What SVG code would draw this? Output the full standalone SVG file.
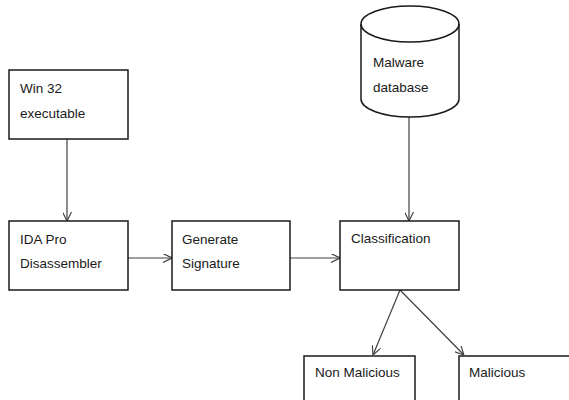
<svg xmlns="http://www.w3.org/2000/svg" width="569" height="400" viewBox="0 0 569 400">
  <defs>
    <marker id="arrow" viewBox="0 0 10 10" refX="10" refY="5" markerWidth="9" markerHeight="9" markerUnits="userSpaceOnUse" orient="auto">
      <path d="M0,0 L10,5 L0,10" fill="none" stroke="#404040" stroke-width="1.3"/>
    </marker>
  </defs>
  <style>
    .box { fill: #ffffff; stroke: #1a1a1a; stroke-width: 1.5; }
    .label { font-family: "Liberation Sans", Arial, sans-serif; font-size: 13.5px; fill: #1a1a1a; }
    .conn { fill: none; stroke: #404040; stroke-width: 1.2; marker-end: url(#arrow); }
  </style>
  <rect width="569" height="400" fill="#ffffff"/>

  <g id="connectors">
    <line class="conn" x1="67" y1="139" x2="67" y2="221"/>
    <line class="conn" x1="128" y1="258" x2="172" y2="258"/>
    <line class="conn" x1="290" y1="258" x2="340" y2="258"/>
    <line class="conn" x1="409" y1="117" x2="409" y2="221"/>
    <line class="conn" x1="400" y1="290" x2="373" y2="355"/>
    <line class="conn" x1="400" y1="290" x2="464" y2="355"/>
  </g>

  <g id="win32">
    <rect class="box" x="9" y="70" width="119" height="69"/>
    <text class="label" x="20" y="93">Win 32</text>
    <text class="label" x="20" y="118">executable</text>
  </g>

  <g id="ida">
    <rect class="box" x="9" y="221" width="119" height="69"/>
    <text class="label" x="20" y="244">IDA Pro</text>
    <text class="label" x="20" y="268">Disassembler</text>
  </g>

  <g id="signature">
    <rect class="box" x="172" y="221" width="118" height="69"/>
    <text class="label" x="182" y="244">Generate</text>
    <text class="label" x="182" y="268">Signature</text>
  </g>

  <g id="database">
    <path class="box" d="M361,24 L361,99 A49,18 0 0 0 459,99 L459,24 A49,18 0 0 0 361,24 Z"/>
    <path d="M361,24 A49,18 0 0 0 459,24" fill="none" stroke="#1a1a1a" stroke-width="1.5"/>
    <text class="label" x="373" y="67">Malware</text>
    <text class="label" x="373" y="92">database</text>
  </g>

  <g id="classification">
    <rect class="box" x="340" y="221" width="119" height="69"/>
    <text class="label" x="351" y="243">Classification</text>
  </g>

  <g id="non-malicious">
    <rect class="box" x="304" y="356" width="111" height="50"/>
    <text class="label" x="315" y="377">Non Malicious</text>
  </g>

  <g id="malicious">
    <rect class="box" x="459" y="356" width="115" height="50"/>
    <text class="label" x="469" y="377">Malicious</text>
  </g>
</svg>
